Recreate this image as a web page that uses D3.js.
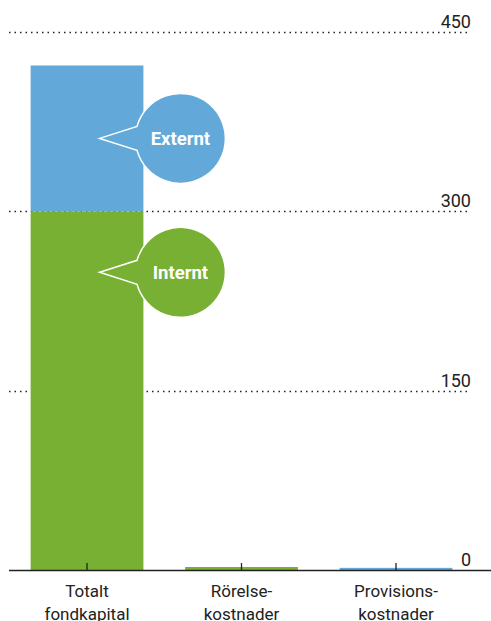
<!DOCTYPE html>
<html>
<head>
<meta charset="utf-8">
<script src="https://cdn.jsdelivr.net/npm/d3@7"></script>
<style>
  html, body { margin: 0; padding: 0; background: #fff; }
  svg { display: block; font-family: Roboto, "Noto Sans", sans-serif; }
</style>
</head>
<body>
<svg id="chart" width="491" height="621"></svg>
<script>
// Categories and stacked values (MSEK)
const categories = [["Totalt", "fondkapital"], ["Rörelse-", "kostnader"], ["Provisions-", "kostnader"]];
const internt = [300, 2.5, 0];
const externt = [122, 0, 1.8];
const tickValues = [0, 150, 300, 450];
// Bubble labels: text, series, category index, value where the bubble sits
const bubbles = [
  { text: "Externt", series: "externt", cat: 0, at: 361 },
  { text: "Internt", series: "internt", cat: 0, at: 249 }
];

const colors = { internt: "#77b032", externt: "#62a9da" };
const W = 491, H = 621;
const svg = d3.select("#chart");

const x = d3.scaleBand()
  .domain(d3.range(categories.length))
  .range([9, 474])
  .paddingInner(0.27)
  .paddingOuter(0.14);
const y = d3.scaleLinear().domain([0, 450]).range([570, 32]);

// Dotted gridlines with labels on the right
const grid = svg.append("g");
tickValues.filter(v => v > 0).forEach(v => {
  grid.append("line")
    .attr("x1", 9).attr("x2", 471)
    .attr("y1", Math.round(y(v)) + 0.5).attr("y2", Math.round(y(v)) + 0.5)
    .attr("stroke", "#222").attr("stroke-width", 1.5)
    .attr("stroke-dasharray", "1.5,4");
});
tickValues.forEach(v => {
  grid.append("text")
    .attr("x", 471).attr("y", y(v) - 4)
    .attr("text-anchor", "end")
    .attr("font-size", 18)
    .attr("fill", "#222")
    .text(v);
});

// Stacked bars
const rows = categories.map((c, i) => ({ i, internt: internt[i], externt: externt[i] }));
const stack = d3.stack().keys(["internt", "externt"])(rows);
svg.append("g").selectAll("g").data(stack).join("g")
  .attr("fill", d => colors[d.key])
  .selectAll("rect").data(d => d).join("rect")
  .attr("x", d => x(d.data.i))
  .attr("width", x.bandwidth())
  .attr("y", d => y(d[1]))
  .attr("height", d => y(d[0]) - y(d[1]));

// Baseline and category ticks
svg.append("line")
  .attr("x1", 9).attr("x2", W)
  .attr("y1", y(0) + 0.5).attr("y2", y(0) + 0.5)
  .attr("stroke", "#222").attr("stroke-width", 1.3);
categories.forEach((c, i) => {
  const cx = x(i) + x.bandwidth() / 2;
  svg.append("line")
    .attr("x1", cx).attr("x2", cx)
    .attr("y1", y(0) - 7).attr("y2", y(0))
    .attr("stroke", "#222").attr("stroke-width", 1.3);
  const t = svg.append("text")
    .attr("x", cx).attr("y", 597)
    .attr("text-anchor", "middle")
    .attr("font-size", 17)
    .attr("fill", "#222");
  c.forEach((line, k) => {
    t.append("tspan").attr("x", cx).attr("dy", k === 0 ? 0 : 23).text(line);
  });
});

// Speech-bubble labels pointing at their bar segment
const r = 45;
bubbles.forEach(b => {
  const cx = x(b.cat) + x.bandwidth() + 37;
  const cy = y(b.at);
  const tipX = x(b.cat) + 69;
  const a = Math.PI - 0.27;
  const p1 = [cx + r * Math.cos(a), cy - r * Math.sin(a)];
  const path = d3.path();
  path.moveTo(p1[0], p1[1]);
  path.arc(cx, cy, r, -a, a, false);
  path.lineTo(tipX, cy);
  path.closePath();
  svg.append("path")
    .attr("d", path.toString())
    .attr("fill", colors[b.series])
    .attr("stroke", "#fff")
    .attr("stroke-width", 1.5)
    .attr("stroke-linejoin", "miter");
  svg.append("text")
    .attr("x", cx).attr("y", cy + 6.5)
    .attr("text-anchor", "middle")
    .attr("font-size", 18.5)
    .attr("font-weight", "bold")
    .attr("fill", "#fff")
    .text(b.text);
});
</script>
</body>
</html>
